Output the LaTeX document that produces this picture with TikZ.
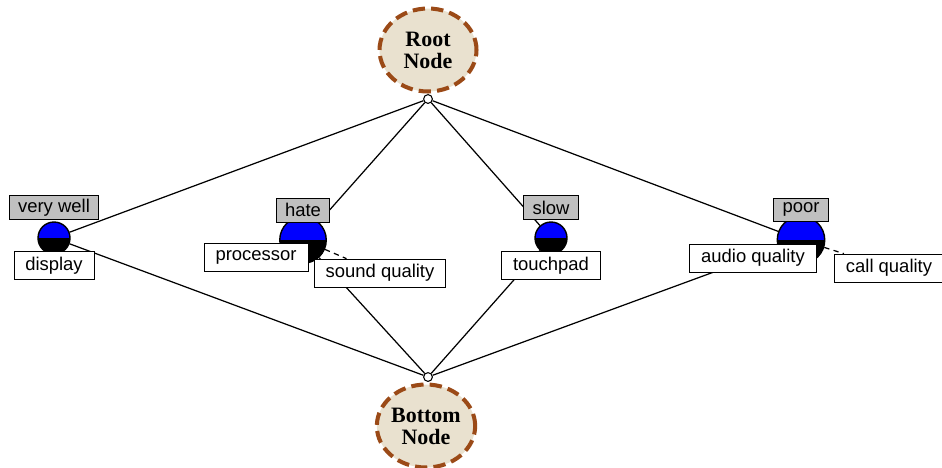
\documentclass[tikz,border=0pt]{standalone}
\usepackage{fontspec}
\setmainfont{Liberation Serif}
\newfontfamily\arialfont{Liberation Sans}
\usetikzlibrary{positioning,shapes.geometric,backgrounds}

\definecolor{nodebrown}{HTML}{9B4A17}
\definecolor{nodebeige}{HTML}{E9E1CF}
\definecolor{boxgray}{HTML}{C0C0C0}

\begin{document}
\begin{tikzpicture}[x=0.02cm,y=-0.02cm,
  endnode/.style={ellipse,draw=nodebrown,fill=nodebeige,line width=2.3pt,dash pattern=on 7pt off 3.5pt,minimum width=1.94cm,minimum height=1.66cm,inner sep=0pt,align=center,font=\fontsize{12.5}{12.5}\selectfont\bfseries},
  joint/.style={circle,draw,fill=white,inner sep=0pt,minimum size=5pt,line width=0.6pt},
  opinion/.style={draw,fill=boxgray,font=\arialfont\fontsize{10.5}{12}\selectfont,inner xsep=5pt,inner ysep=0pt,minimum height=0.47cm},
  feature/.style={draw,fill=white,font=\arialfont\fontsize{10.5}{12}\selectfont,inner xsep=6.5pt,inner ysep=0pt,minimum height=0.56cm},
  polarity/.style={circle,draw,line width=0.8pt,inner sep=0pt,
    path picture={\fill[blue] (path picture bounding box.west) rectangle (path picture bounding box.north east);
                  \fill[black] (path picture bounding box.west) rectangle (path picture bounding box.south east);}},
  link/.style={line width=0.7pt},
  weak/.style={line width=0.7pt,dash pattern=on 3pt off 2.5pt}]
\useasboundingbox (0,0) rectangle (942,467);

% root and bottom of the lattice
\node[endnode] (root) at (428,50) {Root\\Node};
\node[endnode] (bottom) at (426,426) {Bottom\\Node};
\node[joint] (rj) at (428,99) {};
\node[joint] (bj) at (428,377) {};

% opinion words
\node[polarity,minimum size=0.64cm] (vwc) at (54,238) {};
\node[polarity,minimum size=0.93cm] (hatec) at (303,240) {};
\node[polarity,minimum size=0.64cm] (slowc) at (551,238) {};
\node[polarity,minimum size=0.95cm] (poorc) at (801,240) {};

\node[opinion,above=1pt of vwc] (vw) {very well};
\node[opinion,above=-3.5pt of hatec] (hate) {hate};
\node[opinion,above=1pt of slowc] (slow) {slow};
\node[opinion,above=-3.5pt of poorc] (poor) {poor};

% features
\node[feature,below=-2pt of vwc] (display) {display};
\node[feature] (processor) at (256,257) {processor};
\node[feature] (sound) at (380,273) {sound quality};
\node[feature,below=-2pt of slowc] (touchpad) {touchpad};
\node[feature] (audio) at (753,258) {audio quality};
\node[feature] (call) at (889,268) {call quality};

\begin{scope}[on background layer]
\path[link]
(rj) edge (vwc) (rj) edge (hatec) (rj) edge (slowc) (rj) edge (poorc)
(bj) edge (vwc) (bj) edge (hatec) (bj) edge (slowc) (bj) edge (poorc)
;
\path[weak]
(hatec) edge (sound)
(poorc) edge (call)
;
\end{scope}
\end{tikzpicture}
\end{document}
